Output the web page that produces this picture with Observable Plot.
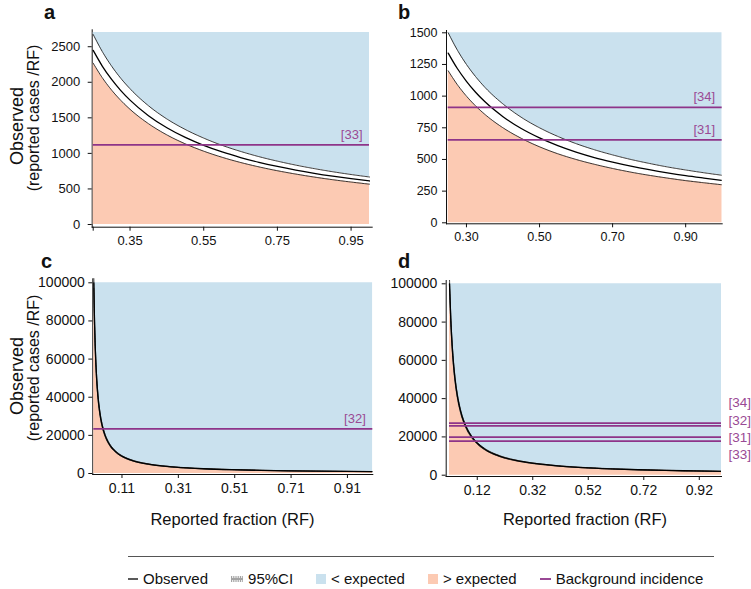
<!DOCTYPE html>
<html><head><meta charset="utf-8">
<script src="https://cdn.jsdelivr.net/npm/d3@7"></script>
<script src="https://cdn.jsdelivr.net/npm/@observablehq/plot@0.6"></script>
<style>
body{margin:0;background:#fff;font-family:"Liberation Sans",Arial,sans-serif;color:#111;}
#root{position:relative;width:751px;height:589px;overflow:hidden;background:#fff;}
.abs{position:absolute;}
.letter{position:absolute;font-weight:bold;font-size:20px;line-height:1;}
.rot{position:absolute;white-space:nowrap;transform:translate(-50%,-50%) rotate(-90deg);line-height:1;}
.xt{position:absolute;white-space:nowrap;transform:translate(-50%,-50%);font-size:16.5px;line-height:1;}
#legend{position:absolute;left:128px;top:570px;display:flex;align-items:center;font-size:15px;gap:23px;white-space:nowrap;}
#legend .it{display:flex;align-items:center;gap:5px;}
</style></head><body><div id="root"></div>
<script>
// ---------- data ----------
// panel a
const rfA   = [0.25,0.275,0.3,0.325,0.35,0.4,0.45,0.5,0.55,0.6,0.65,0.7,0.75,0.8,0.85,0.9,0.95,1.0];
const obsA  = [2448,2225,2040,1883,1749,1530,1360,1224,1113,1020,942,874,816,765,720,680,644,612];
const loA   = [2268,2062,1890,1745,1620,1418,1260,1134,1031,945,872,810,756,709,667,630,597,567];
const hiA   = [2672,2429,2227,2055,1909,1670,1484,1336,1215,1113,1028,954,891,835,786,742,703,668];
const bgA   = [1121];
const bgLabA = ["[33]"];
const xTicksA = [0.25,0.35,0.55,0.75,0.95];
const xLabA   = ["","0.35","0.55","0.75","0.95"];
const yTicksA = [0,500,1000,1500,2000,2500];

// panel b
const rfB   = [0.25,0.275,0.3,0.325,0.35,0.4,0.45,0.5,0.55,0.6,0.65,0.7,0.75,0.8,0.85,0.9,0.95,1.0];
const obsB  = [1340,1218,1117,1031,957,838,744,670,609,558,515,479,447,419,394,372,353,335];
const loB   = [1200,1091,1000,923,857,750,667,600,545,500,462,429,400,375,353,333,316,300];
const hiB   = [1500,1364,1250,1154,1071,938,833,750,682,625,577,536,500,469,441,417,395,375];
const bgB   = [912,655];
const bgLabB = ["[34]","[31]"];
const xTicksB = [0.30,0.50,0.70,0.90];
const xLabB   = ["0.30","0.50","0.70","0.90"];
const yTicksB = [0,250,500,750,1000,1250,1500];

// panel c
const rfC   = [0.01,0.0125,0.015,0.0175,0.02,0.025,0.03,0.035,0.04,0.05,0.06,0.07,0.08,0.1,0.12,0.15,0.2,0.25,0.3,0.4,0.5,0.6,0.7,0.8,0.9,1.0];
const obsC  = [100000,80000,66667,57143,50000,40000,33333,28571,25000,20000,16667,14286,12500,10000,8333,6667,5000,4000,3333,2500,2000,1667,1429,1250,1111,1000];
const loC   = [97000,77600,64667,55429,48500,38800,32333,27714,24250,19400,16167,13857,12125,9700,8083,6467,4850,3880,3233,2425,1940,1617,1386,1213,1078,970];
const hiC   = [103000,82400,68667,58857,51500,41200,34333,29429,25750,20600,17167,14714,12875,10300,8583,6867,5150,4120,3433,2575,2060,1717,1471,1288,1144,1030];
const bgC   = [23400];
const bgLabC = ["[32]"];
const xTicksC = [0.11,0.31,0.51,0.71,0.91];
const xLabC   = ["0.11","0.31","0.51","0.71","0.91"];
const yTicksC = [0,20000,40000,60000,80000,100000];

// panel d
const rfD   = [0.02,0.025,0.03,0.035,0.04,0.045,0.05,0.06,0.07,0.08,0.1,0.12,0.15,0.2,0.25,0.3,0.4,0.5,0.6,0.7,0.8,0.9,1.0];
const obsD  = [100000,80000,66667,57143,50000,44444,40000,33333,28571,25000,20000,16667,13333,10000,8000,6667,5000,4000,3333,2857,2500,2222,2000];
const loD   = [97500,78000,65000,55714,48750,43333,39000,32500,27857,24375,19500,16250,13000,9750,7800,6500,4875,3900,3250,2786,2438,2167,1950];
const hiD   = [102500,82000,68333,58571,51250,45556,41000,34167,29286,25625,20500,17083,13667,10250,8200,6833,5125,4100,3417,2929,2563,2278,2050];
const bgD   = [27200,25800,19900,17800];
const bgLabD = ["[34]","[32]","[31]","[33]"];
const xTicksD = [0.12,0.32,0.52,0.72,0.92];
const xLabD   = ["0.12","0.32","0.52","0.72","0.92"];
const yTicksD = [0,20000,40000,60000,80000,100000];

const legendItems = ["Observed","95%CI","< expected","> expected","Background incidence"];

// ---------- styling ----------
const BLUE = "#cae1ee", ORANGE = "#fccab3", PURPLE = "#8e3489", PURPLE_T = "#9a4a94";
const root = document.getElementById("root");

function panel(cfg) {
  const data = cfg.rf.map((x,i)=>({rf:x, obs:cfg.obs[i], lo:cfg.lo[i], hi:cfg.hi[i]}));
  const bg = cfg.bg.map((v,i)=>({v, label:cfg.bgLab[i], dy:cfg.labDy ? cfg.labDy[i] : -10}));
  const xmin = cfg.xDomain[0], xmax = cfg.xDomain[1];
  const curve = "monotone-x";
  const marks = [
    Plot.areaY(data, {x:"rf", y1:0, y2:"lo", fill:ORANGE, curve, clip:true}),
    Plot.areaY(data, {x:"rf", y1:"hi", y2:cfg.ymax, fill:BLUE, curve, clip:true}),
    Plot.line(data, {x:"rf", y:"lo", stroke:"#222", strokeWidth:0.9, strokeDasharray:"2,0.7", curve, clip:true}),
    Plot.line(data, {x:"rf", y:"hi", stroke:"#222", strokeWidth:0.9, strokeDasharray:"2,0.7", curve, clip:true}),
    Plot.line(data, {x:"rf", y:"obs", stroke:"#000", strokeWidth:1.3, curve, clip:true}),
    Plot.ruleY(bg, {y:"v", x1:xmin, x2:xmax, stroke:PURPLE, strokeWidth:1.8}),
  ];
  if (cfg.outsideLabels) {
    bg.forEach(b => marks.push(Plot.text([b], {x:xmax, y:"v", text:"label", dx:7, dy:b.dy, textAnchor:"start", fill:PURPLE_T, fontSize:13.5})));
  } else {
    marks.push(Plot.text(bg, {x:xmax, y:"v", text:"label", dx:-7, dy:-10, textAnchor:"end", fill:PURPLE_T, fontSize:13}));
  }
  const svg = Plot.plot({
    width: cfg.w, height: cfg.h,
    marginLeft: cfg.ml, marginRight: cfg.mr, marginTop: cfg.mt, marginBottom: cfg.mb,
    style: {fontSize: cfg.fs + "px", fontFamily: "Liberation Sans, Arial, sans-serif", color: "#111", background: "transparent", overflow: "visible"},
    x: {domain: cfg.xDomain, ticks: cfg.xTicks, tickFormat: d => cfg.xLab[cfg.xTicks.indexOf(d)], tickSize: 4, tickPadding: cfg.xpad, line: true, insetLeft: cfg.il, insetRight: cfg.ir, label: null},
    y: {domain: [0, cfg.ymax], ticks: cfg.yTicks, tickFormat: d3.format("d"), tickSize: 4, tickPadding: cfg.ypad, line: true, insetTop: cfg.it, insetBottom: cfg.ib, label: null},
    marks
  });
  svg.style.position = "absolute";
  svg.style.left = cfg.left + "px";
  svg.style.top = cfg.top + "px";
  root.appendChild(svg);
}

panel({left:0, top:0, w:375, h:260, ml:91.7, mr:3.3, mt:29.3, mb:33.3, il:1, ir:2.7, it:2.7, ib:2.7,
  rf:rfA, obs:obsA, lo:loA, hi:hiA, bg:bgA, bgLab:bgLabA, xDomain:[0.25,1.0], xTicks:xTicksA, xLab:xLabA,
  ymax:2700, yTicks:yTicksA, fs:13, xpad:5, ypad:8});
panel({left:375, top:0, w:376, h:260, ml:71, mr:29.3, mt:30, mb:36.7, il:1.7, ir:0, it:2.3, ib:1,
  rf:rfB, obs:obsB, lo:loB, hi:hiB, bg:bgB, bgLab:bgLabB, xDomain:[0.25,1.0], xTicks:xTicksB, xLab:xLabB,
  ymax:1500, yTicks:yTicksB, fs:12.5, xpad:4, ypad:5});
panel({left:0, top:250, w:375, h:260, ml:92.3, mr:2.7, mt:28.3, mb:36, il:1, ir:0, it:4, ib:1,
  rf:rfC, obs:obsC, lo:loC, hi:hiC, bg:bgC, bgLab:bgLabC, xDomain:[0.01,1.0], xTicks:xTicksC, xLab:xLabC,
  ymax:100000, yTicks:yTicksC, fs:14, xpad:5, ypad:4});
panel({left:375, top:250, w:376, h:260, ml:70.7, mr:30, mt:30, mb:34, il:3.3, ir:0, it:3.3, ib:1.3,
  rf:rfD, obs:obsD, lo:loD, hi:hiD, bg:bgD, bgLab:bgLabD, labDy:[-20,-5,1,14], outsideLabels:true,
  xDomain:[0.02,1.0], xTicks:xTicksD, xLab:xLabD, ymax:100000, yTicks:yTicksD, fs:14, xpad:5, ypad:5});

// panel letters
[["a",44,2],["b",398,2],["c",41,251],["d",398,251]].forEach(([t,x,y])=>{
  const d = document.createElement("div"); d.className="letter"; d.textContent=t;
  d.style.left=x+"px"; d.style.top=y+"px"; root.appendChild(d);
});
// y titles
[[126,118],[376,368]].forEach(([c1,c2])=>{
  const o = document.createElement("div"); o.className="rot"; o.textContent="Observed";
  o.style.left="17px"; o.style.top=c1+"px"; o.style.fontSize="18px"; root.appendChild(o);
  const r = document.createElement("div"); r.className="rot"; r.textContent="(reported cases /RF)";
  r.style.left="34px"; r.style.top=c2+"px"; r.style.fontSize="16px"; root.appendChild(r);
});
// x titles
[232.5,585].forEach(cx=>{
  const t = document.createElement("div"); t.className="xt"; t.textContent="Reported fraction (RF)";
  t.style.left=cx+"px"; t.style.top="519px"; root.appendChild(t);
});
// separator
const sep = document.createElement("div");
sep.className="abs"; sep.style.left="128px"; sep.style.top="556px"; sep.style.width="586px"; sep.style.height="1px"; sep.style.background="#555";
root.appendChild(sep);
// legend
const icons = [
  '<svg width="10" height="10"><line x1="0" y1="5" x2="10" y2="5" stroke="#000" stroke-width="1.3"/></svg>',
  '<svg width="12" height="10"><line x1="0" y1="3" x2="12" y2="3" stroke="#333" stroke-width="0.9" stroke-dasharray="1,0.8"/><line x1="0" y1="5" x2="12" y2="5" stroke="#333" stroke-width="0.9"/><line x1="0" y1="7" x2="12" y2="7" stroke="#333" stroke-width="0.9" stroke-dasharray="1,0.8"/></svg>',
  '<svg width="10" height="10"><rect x="0" y="0" width="10" height="10" fill="'+BLUE+'"/></svg>',
  '<svg width="10" height="10"><rect x="0" y="0" width="10" height="10" fill="'+ORANGE+'"/></svg>',
  '<svg width="11" height="10"><line x1="0" y1="5" x2="11" y2="5" stroke="'+PURPLE+'" stroke-width="1.8"/></svg>'
];
const lg = document.createElement("div"); lg.id="legend";
legendItems.forEach((t,i)=>{
  const it = document.createElement("div"); it.className="it";
  it.innerHTML = icons[i] + "<span></span>"; it.querySelector("span").textContent = t;
  lg.appendChild(it);
});
root.appendChild(lg);
</script>
</body></html>
